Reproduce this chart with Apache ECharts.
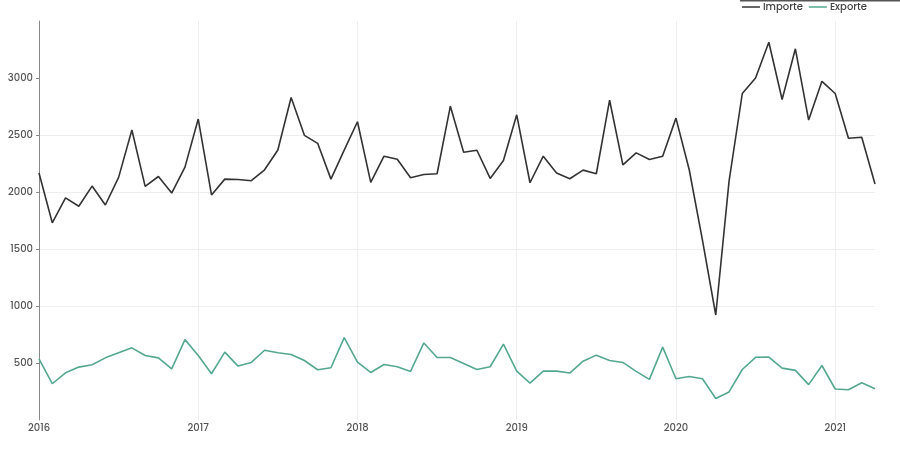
<!DOCTYPE html>
<html>
<head>
<meta charset="utf-8">
<script src="https://cdn.jsdelivr.net/npm/echarts@6/dist/echarts.min.js"></script>
<style>
  html, body { margin: 0; padding: 0; background: #fff; }
  #chart { width: 900px; height: 462px; }
</style>
</head>
<body>
<div id="chart"></div>
<script>
// monthly values, Jan 2016 .. Apr 2021
var years = ['2016', '2017', '2018', '2019', '2020', '2021'];
var monthsInLastYear = 4;

var importe = [
  2166, 1730, 1948, 1875, 2052, 1886, 2128, 2544, 2049, 2136, 1991, 2218,
  2640, 1974, 2113, 2110, 2099, 2195, 2369, 2829, 2497, 2427, 2113, 2367,
  2616, 2084, 2314, 2288, 2125, 2154, 2160, 2753, 2349, 2366, 2119, 2276,
  2677, 2081, 2314, 2166, 2116, 2192, 2160, 2805, 2238, 2343, 2285, 2314,
  2648, 2195, 1575, 921, 2093, 2864, 3000, 3314, 2811, 3256, 2631, 2971,
  2864, 2471, 2480, 2070
];
var exporte = [
  537, 318, 414, 464, 484, 545, 589, 633, 566, 545, 449, 705,
  566, 406, 595, 473, 505, 612, 590, 575, 522, 441, 458, 723,
  508, 417, 487, 467, 426, 676, 548, 548, 496, 443, 467, 665,
  428, 324, 429, 429, 412, 516, 569, 522, 505, 426, 356, 639,
  362, 382, 362, 188, 246, 443, 550, 552, 455, 435, 310, 478,
  272, 266, 327, 275
];
var yTicks = [500, 1000, 1500, 2000, 2500, 3000];

var months = [];
years.forEach(function (y, yi) {
  var n = yi === years.length - 1 ? monthsInLastYear : 12;
  for (var m = 1; m <= n; m++) {
    months.push(y + '-' + (m < 10 ? '0' + m : m));
  }
});

var font = 'Poppins, Inter, "Noto Sans", sans-serif';
var myChart = echarts.init(document.getElementById('chart'));

var isJan = function (idx) { return idx % 12 === 0; };

var option = {
  backgroundColor: '#fff',
  animation: false,
  color: ['#333333', '#55a88f'],
  textStyle: { fontFamily: font },
  grid: { left: 39, right: 25, top: 21, bottom: 42 },
  legend: {
    right: 28,
    top: -3,
    itemWidth: 18,
    itemHeight: 8,
    itemGap: 6,
    icon: 'path://M0,4 L18,4 L18,5.5 L0,5.5 Z',
    textStyle: { fontSize: 10, color: '#444', fontWeight: 500, fontFamily: font, padding: [0, 0, 0, -2] },
    data: ['Importe', 'Exporte']
  },
  xAxis: {
    type: 'category',
    data: months,
    boundaryGap: false,
    axisLine: { show: false },
    axisTick: { show: false },
    axisLabel: {
      interval: isJan,
      margin: 3,
      fontSize: 10,
      fontWeight: 500,
      color: '#555',
      formatter: function (v) { return v.slice(0, 4); }
    },
    splitLine: {
      show: true,
      interval: isJan,
      lineStyle: { color: '#eeeeee', width: 1 }
    }
  },
  yAxis: {
    type: 'value',
    min: 0,
    max: 3500,
    interval: 500,
    axisLine: { show: true, lineStyle: { color: '#8a8a8a', width: 1 } },
    axisTick: { show: true, length: 3, customValues: yTicks, lineStyle: { color: '#8a8a8a' } },
    axisLabel: {
      customValues: yTicks,
      margin: 6,
      fontSize: 10,
      fontWeight: 500,
      color: '#555',
      formatter: function (v) { return String(v); }
    },
    splitLine: {
      show: true,
      showMinLine: false,
      showMaxLine: false,
      lineStyle: { color: '#eeeeee', width: 1 }
    }
  },
  graphic: [{
    type: 'rect',
    shape: { x: 740, y: 0, width: 160, height: 1.5 },
    style: { fill: '#555' },
    silent: true
  }],
  series: [
    {
      name: 'Importe',
      type: 'line',
      data: importe,
      symbol: 'none',
      lineStyle: { width: 1.6, color: '#333333' }
    },
    {
      name: 'Exporte',
      type: 'line',
      data: exporte,
      symbol: 'none',
      lineStyle: { width: 1.6, color: '#55a88f' }
    }
  ]
};

myChart.setOption(option);
</script>
</body>
</html>
